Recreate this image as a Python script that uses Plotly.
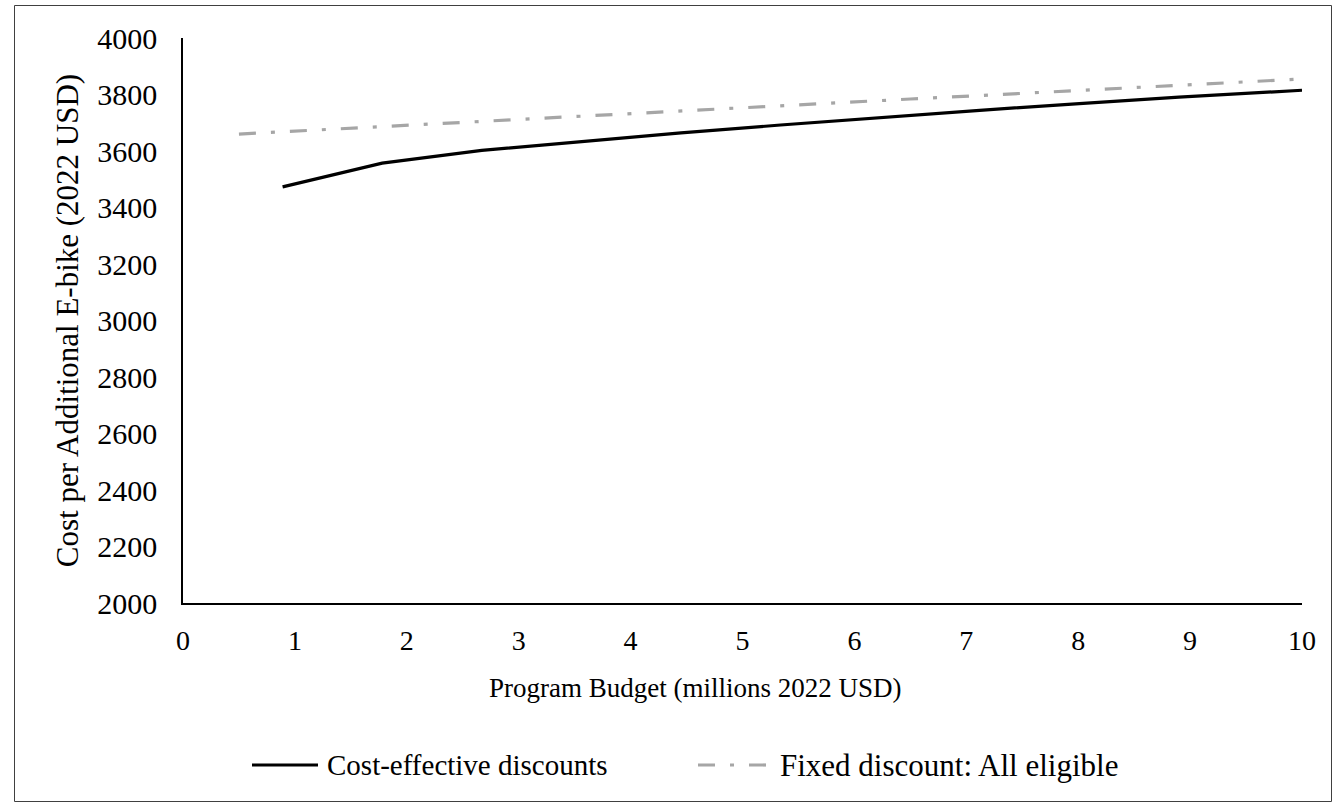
import plotly.graph_objects as go

budget_ce = [0.89, 1.78, 2.67, 3.56, 4.45, 5.34, 6.23, 7.12, 8.01, 8.90, 10.0]
cost_ce = [3473, 3557, 3602, 3634, 3664, 3692, 3719, 3744, 3768, 3791, 3815]

budget_fixed = [0.5, 1.5, 2.5, 3.5, 4.5, 5.5, 6.5, 7.5, 8.5, 9.5, 10.0]
cost_fixed = [3660, 3681, 3701, 3722, 3742, 3763, 3784, 3804, 3825, 3845, 3855]

series_names = ["Cost-effective discounts", "Fixed discount: All eligible"]
x_title = "Program Budget (millions 2022 USD)"
y_title = "Cost per Additional E-bike (2022 USD)"
x_ticks = [0, 1, 2, 3, 4, 5, 6, 7, 8, 9, 10]
y_ticks = [2000, 2200, 2400, 2600, 2800, 3000, 3200, 3400, 3600, 3800, 4000]

FONT = "Liberation Serif, Times New Roman, serif"
BLACK_LINE = dict(color="black", width=3.2)
GRAY_LINE = dict(color="#A6A6A6", width=3.2, dash="17px,15px,4px,15px")

fig = go.Figure()
fig.add_trace(go.Scatter(x=budget_ce, y=cost_ce, mode="lines",
                         name=series_names[0], line=BLACK_LINE, showlegend=False))
fig.add_trace(go.Scatter(x=budget_fixed, y=cost_fixed, mode="lines",
                         name=series_names[1], line=GRAY_LINE, showlegend=False))

W, H = 1333, 803
L, R, T, B = 183, 31, 38, 200
pw, ph = W - L - R, H - T - B

def px_x(px):
    return (px - L) / pw

def px_y(py):
    return (H - B - py) / ph

# outer frame
fig.add_shape(type="rect", xref="paper", yref="paper",
              x0=px_x(14.5), x1=px_x(1331.5), y0=px_y(801.5), y1=px_y(5.5),
              line=dict(color="#404040", width=1), fillcolor="rgba(0,0,0,0)", layer="below")

# legend (custom, to get the long line keys)
leg_y = px_y(765)
legend_items = [(252, 318, 325, BLACK_LINE, series_names[0], 29),
                (698, 768, 778, GRAY_LINE, series_names[1], 31)]
for x0, x1, tx, ln, name, fs in legend_items:
    fig.add_shape(type="line", xref="paper", yref="paper",
                  x0=px_x(x0), x1=px_x(x1), y0=leg_y, y1=leg_y, line=ln)
    fig.add_annotation(xref="paper", yref="paper", x=px_x(tx), y=leg_y,
                       xanchor="left", yanchor="middle", showarrow=False, text=name,
                       font=dict(family=FONT, size=fs, color="black"))

# x axis title (offset left of plot centre, as in the original)
fig.add_annotation(xref="paper", yref="paper", x=px_x(695), y=px_y(688),
                   xanchor="center", yanchor="middle", showarrow=False, text=x_title,
                   font=dict(family=FONT, size=27, color="black"))

fig.update_layout(
    width=W, height=H,
    margin=dict(l=L, r=R, t=T, b=B),
    paper_bgcolor="white", plot_bgcolor="white",
    font=dict(family=FONT, size=28, color="black"),
    showlegend=False,
    xaxis=dict(range=[0, 10], tickvals=x_ticks, ticktext=[str(v) for v in x_ticks],
               showgrid=False, zeroline=False, showline=True, linecolor="black", linewidth=1.5,
               ticks="", ticklen=0, ticklabelstandoff=12, tickfont=dict(family=FONT, size=28)),
    yaxis=dict(range=[2000, 4000], tickvals=y_ticks, ticktext=[str(v) for v in y_ticks],
               showgrid=False, zeroline=False, showline=True, linecolor="black", linewidth=1.5,
               ticks="", ticklen=0, ticklabelstandoff=18, tickfont=dict(family=FONT, size=30),
               title=dict(text=y_title, font=dict(family=FONT, size=31),
                          standoff=9)),
)

fig.write_html("out.html", config={"displayModeBar": False},
               post_script="document.body.style.margin='0';document.body.style.overflow='hidden';")
